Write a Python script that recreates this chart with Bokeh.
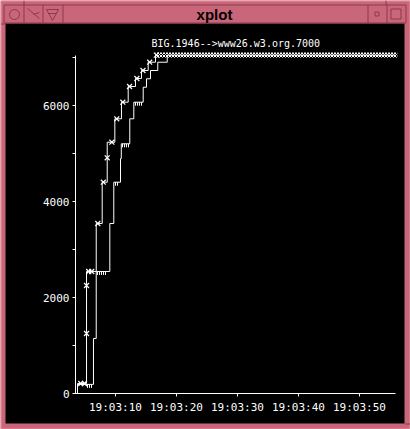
from bokeh.plotting import figure
from bokeh.models import Range1d, FixedTicker
from bokeh.core.properties import value
from bokeh.embed import file_html
from bokeh.resources import INLINE

# ---- data: time in seconds after 19:03:00, sequence offset in bytes ----
# sent segments: times at which the sequence jumps, and the level reached
seg_t = [3.77, 3.77, 5.25, 6.84, 7.82, 8.64, 9.89, 10.98, 12.08, 13.28, 14.26, 15.36, 16.56]
seg_s = [0, 208, 2542, 3542, 4402, 5235, 5723, 6069, 6396, 6563, 6729, 6902, 7050]

# acknowledgements: times at which the ack advances, and the ack level
ack_t = [3.77, 3.77, 6.39, 6.84, 9.07, 9.72, 10.82, 10.95, 12.34, 13.00, 14.54, 15.08, 15.74, 16.93, 18.48, 55.9]
ack_s = [0, 190, 1146, 2542, 3542, 4402, 4896, 5202, 5723, 6069, 6381, 6556, 6729, 6902, 7050, 7050]

# segment end markers
xm_t = [4.3, 4.9, 5.25, 5.25, 5.6, 6.1, 7.1, 8.0, 8.64, 9.4, 10.2, 11.2, 12.3, 13.5, 14.5, 15.6, 16.7]
xm_s = [208, 208, 1250, 2250, 2542, 2542, 3542, 4402, 4910, 5235, 5723, 6069, 6396, 6563, 6729, 6902, 7050]

# duplicate-ack ticks hanging under the ack line
dup_t = [5.41, 5.74, 6.07, 7.05, 7.38, 7.70, 8.03, 8.36, 10.0, 10.33,
         11.15, 11.48, 11.80, 12.13, 13.28, 13.61, 13.93, 14.26]
dup_s = [190, 190, 190, 2542, 2542, 2542, 2542, 2542, 4402, 4402,
         5202, 5202, 5202, 5202, 6069, 6069, 6069, 6069]

# dense run of repeated segments at the end of the connection
band_t0, band_t1, band_s = 16.56, 56.2, 7050

x_ticks = [10, 20, 30, 40, 50]
x_labels = ["19:03:10", "19:03:20", "19:03:30", "19:03:40", "19:03:50"]
y_ticks = [0, 2000, 4000, 6000]
y_minor = [1000, 3000, 5000, 7000]

conn_label = "BIG.1946-->www26.w3.org.7000"

# ---- canvas geometry ----
W, H = 410, 429
PX_S = 6.1        # pixels per second
PX_B = 0.048      # pixels per byte
X10, Y0 = 115, 393  # pixel position of t=10 s and of sequence 0

t_lo = 10 - X10 / PX_S
t_hi = t_lo + W / PX_S
s_lo = -(H - Y0) / PX_B
s_hi = s_lo + H / PX_B

PINK = "#c96679"
LIGHT = "#e68fa1"
DARK = "#8a3a4d"
WHITE = "#ffffff"

p = figure(width=W, height=H, title=None, output_backend="svg", toolbar_location=None,
           x_range=Range1d(t_lo, t_hi), y_range=Range1d(s_lo, s_hi),
           min_border=0, background_fill_color=PINK, border_fill_color=PINK,
           outline_line_color=None)
p.grid.visible = False

# pixel space for the window frame
p.extra_x_ranges = {"px": Range1d(0, W)}
p.extra_y_ranges = {"px": Range1d(H, 0)}
px = dict(x_range_name="px", y_range_name="px")

# window frame and title bar
p.quad(left=[5], right=[404], top=[23], bottom=[423], fill_color="black", line_color=None, **px)
p.quad(left=[0.5], right=[409.5], top=[0.5], bottom=[428.5], fill_color=None, line_color=LIGHT, **px)
p.quad(left=[3.5], right=[405.5], top=[4.5], bottom=[22.5], fill_color=None, line_color=DARK, **px)
p.segment(x0=[23.5, 42.5, 62.5, 367.5, 386.5], y0=[4.5] * 5,
          x1=[23.5, 42.5, 62.5, 367.5, 386.5], y1=[22.5] * 5, line_color=DARK, **px)
p.segment(x0=[23.5, 385.5, 0.5, 404.5], y0=[0, 0, 23.5, 423.5],
          x1=[23.5, 385.5, 5, 409.5], y1=[4.5, 4.5, 23.5, 423.5], line_color=DARK, **px)
p.circle(x=[14], y=[14], radius=5, fill_color=None, line_color=DARK, **px)
p.segment(x0=[27, 33], y0=[8, 14], x1=[39, 39], y1=[18, 12], line_color=DARK, **px)
p.patch(x=[46, 58, 52], y=[9, 9, 20], fill_color=None, line_color=DARK, **px)
p.segment(x0=[48], y0=[13], x1=[56], y1=[13], line_color=DARK, **px)
p.quad(left=[374.5], right=[378.5], top=[11.5], bottom=[15.5], fill_color=None, line_color=DARK, **px)
p.quad(left=[390.5], right=[400.5], top=[8.5], bottom=[18.5], fill_color=None, line_color=DARK, **px)
p.text(x=[214], y=[14], text=["xplot"], text_font=value("Liberation Sans"), text_font_style="bold",
       text_font_size="15px", text_align="center", text_baseline="middle", text_color="black", **px)

# connection name
p.text(x=[151], y=[43], text=[conn_label], text_font=value("DejaVu Sans Mono"),
       text_font_size="10px", text_align="left", text_baseline="middle", text_color=WHITE, **px)

# data
band_h = 2.6 / PX_B
p.quad(left=[band_t0], right=[band_t1], bottom=[band_s - band_h], top=[band_s + band_h],
       fill_color=None, line_color=None, hatch_pattern="diagonal_cross", hatch_color=WHITE,
       hatch_scale=3, hatch_weight=1)
p.step(seg_t, seg_s, mode="after", line_color=WHITE, line_width=1)
p.step(ack_t, ack_s, mode="after", line_color=WHITE, line_width=1)
p.scatter(xm_t, xm_s, marker="x", size=7, line_color=WHITE, line_width=1.2)
p.segment(x0=dup_t, y0=dup_s, x1=dup_t, y1=[s - 3.5 / PX_B for s in dup_s], line_color=WHITE)

# axes crossing inside the black area
xa, ya = p.xaxis[0], p.yaxis[0]
xa.fixed_location = 0
ya.fixed_location = t_lo + 75 / PX_S
xa.bounds = (t_lo + 73 / PX_S, t_lo + 395 / PX_S)
ya.bounds = (0, 7050)
xa.ticker = FixedTicker(ticks=x_ticks, minor_ticks=[])
xa.major_label_overrides = {t: lab for t, lab in zip(x_ticks, x_labels)}
ya.ticker = FixedTicker(ticks=y_ticks, minor_ticks=y_minor)
for ax in (xa, ya):
    ax.axis_line_color = WHITE
    ax.major_tick_line_color = WHITE
    ax.minor_tick_line_color = WHITE
    ax.major_tick_in = 0
    ax.major_tick_out = 3
    ax.minor_tick_in = 0
    ax.minor_tick_out = 3
    ax.major_label_text_color = WHITE
    ax.major_label_text_font = "DejaVu Sans Mono"
    ax.major_label_text_font_size = "11px"
xa.major_label_standoff = 4
ya.major_label_standoff = 3

open("out.html", "w").write(file_html(p, INLINE))
